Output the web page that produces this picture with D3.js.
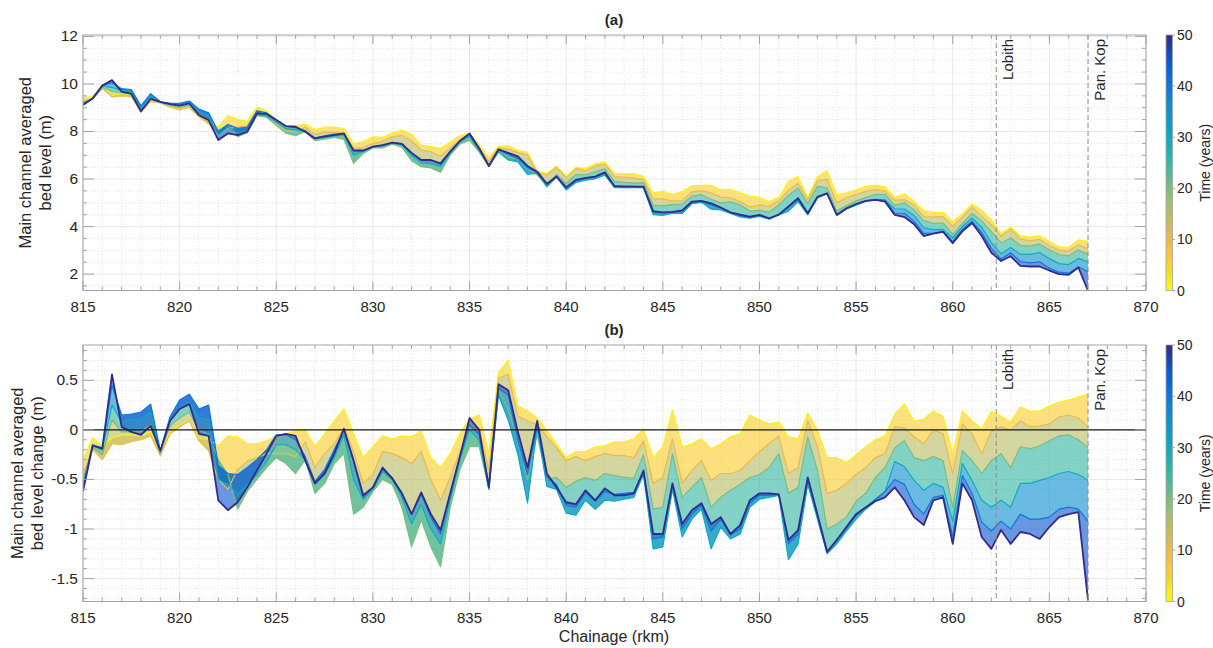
<!DOCTYPE html>
<html lang="en">
<head>
<meta charset="UTF-8">
<title>Bed level development</title>
<script src="https://d3js.org/d3.v7.min.js"></script>
<style>
  body { margin: 0; background: #fff; }
  text { font-family: "Liberation Sans", Arial, sans-serif; fill: #262626; }
</style>
</head>
<body>
<script>
// chainage (rkm) of the computational points
const chainage = [
  815.0, 815.5, 816.0, 816.5, 817.0, 817.5, 818.0, 818.5, 819.0, 819.5,
  820.0, 820.5, 821.0, 821.5, 822.0, 822.5, 823.0, 823.5, 824.0, 824.5,
  825.0, 825.5, 826.0, 826.5, 827.0, 827.5, 828.0, 828.5, 829.0, 829.5,
  830.0, 830.5, 831.0, 831.5, 832.0, 832.5, 833.0, 833.5, 834.0, 834.5,
  835.0, 835.5, 836.0, 836.5, 837.0, 837.5, 838.0, 838.5, 839.0, 839.5,
  840.0, 840.5, 841.0, 841.5, 842.0, 842.5, 843.0, 843.5, 844.0, 844.5,
  845.0, 845.5, 846.0, 846.5, 847.0, 847.5, 848.0, 848.5, 849.0, 849.5,
  850.0, 850.5, 851.0, 851.5, 852.0, 852.5, 853.0, 853.5, 854.0, 854.5,
  855.0, 855.5, 856.0, 856.5, 857.0, 857.5, 858.0, 858.5, 859.0, 859.5,
  860.0, 860.5, 861.0, 861.5, 862.0, 862.5, 863.0, 863.5, 864.0, 864.5,
  865.0, 865.5, 866.0, 866.5, 867.0
];

// initial main channel averaged bed level (m)
const bedInitial = [
  9.73, 9.55, 10.12, 9.60, 9.65, 9.60, 8.90, 9.33, 9.46, 9.06,
  8.88, 8.92, 8.73, 8.54, 8.35, 8.73, 8.58, 8.57, 9.17, 8.98,
  8.54, 8.27, 8.26, 8.30, 8.25, 8.22, 8.09, 7.91, 7.51, 7.86,
  7.94, 7.81, 8.02, 8.12, 7.95, 7.43, 7.65, 7.67, 7.79, 7.87,
  7.80, 7.30, 7.13, 6.79, 6.70, 6.97, 6.93, 6.22, 6.24, 6.68,
  6.38, 6.71, 6.66, 6.81, 6.87, 6.36, 6.34, 6.32, 6.09, 5.70,
  5.65, 5.16, 5.63, 5.86, 5.82, 5.93, 5.68, 5.65, 5.46, 5.13,
  5.13, 4.99, 5.15, 5.96, 6.20, 5.04, 6.10, 6.63, 5.61, 5.75,
  5.80, 5.86, 5.84, 5.73, 5.07, 5.11, 4.98, 4.56, 4.41, 4.46,
  4.45, 4.34, 4.86, 4.68, 4.10, 3.56, 3.90, 3.38, 3.37, 3.42,
  3.13, 2.88, 2.82, 3.11, 3.02
];

// bed level change (m) after a number of years
const years = [1, 10, 20, 30, 40, 50];
const change1 = [
  -0.30, -0.08, -0.16, -0.08, -0.05, -0.05, -0.06, -0.02, -0.20, -0.02,
  0.05, 0.10, -0.08, -0.10, -0.16, -0.06, -0.07, -0.14, -0.14, -0.11,
  -0.06, -0.04, -0.01, 0.00, -0.17, -0.04, 0.09, 0.21, -0.04, -0.28,
  -0.17, -0.06, -0.09, -0.06, -0.07, -0.01, -0.28, -0.38, -0.24, -0.04,
  0.11, 0.15, -0.24, 0.58, 0.70, 0.24, 0.19, 0.12, -0.01, -0.14,
  -0.28, -0.22, -0.22, -0.17, -0.16, -0.12, -0.12, -0.09, 0.01, -0.28,
  -0.17, 0.20, -0.17, -0.14, -0.09, -0.19, -0.14, -0.07, -0.04, 0.15,
  0.10, 0.06, 0.08, -0.07, -0.09, 0.17, 0.00, -0.28, -0.28, -0.33,
  -0.25, -0.17, -0.10, -0.06, 0.16, 0.26, 0.09, 0.11, 0.19, 0.14,
  -0.24, 0.19, 0.09, 0.01, 0.19, 0.14, 0.08, 0.23, 0.19, 0.19,
  0.24, 0.28, 0.30, 0.33, 0.36
];
const change10 = [
  -0.45, -0.20, -0.30, -0.14, -0.15, -0.12, -0.10, -0.06, -0.26, -0.04,
  0.03, 0.09, -0.11, -0.21, -0.50, -0.60, -0.40, -0.32, -0.28, -0.24,
  -0.24, -0.24, -0.27, -0.12, -0.38, -0.24, -0.14, 0.02, -0.22, -0.54,
  -0.45, -0.22, -0.24, -0.28, -0.34, -0.22, -0.50, -0.71, -0.48, -0.22,
  0.00, 0.00, -0.40, 0.52, 0.56, 0.14, 0.09, 0.05, -0.07, -0.18,
  -0.31, -0.27, -0.31, -0.27, -0.24, -0.26, -0.26, -0.28, -0.11, -0.54,
  -0.48, -0.09, -0.54, -0.41, -0.31, -0.51, -0.44, -0.44, -0.41, -0.31,
  -0.22, -0.14, -0.06, -0.44, -0.38, 0.09, -0.17, -0.64, -0.61, -0.54,
  -0.45, -0.38, -0.28, -0.24, 0.03, 0.02, -0.07, -0.14, 0.00, -0.04,
  -0.44, 0.06, -0.04, -0.24, -0.01, 0.03, 0.00, 0.09, 0.03, 0.04,
  0.06, 0.13, 0.15, 0.12, 0.03
];
const change20 = [
  -0.50, -0.18, -0.25, 0.10, -0.02, -0.02, -0.02, 0.05, -0.24, 0.04,
  0.12, 0.18, 0.00, -0.05, -0.30, -0.45, -0.80, -0.62, -0.50, -0.38,
  -0.28, -0.34, -0.44, -0.30, -0.64, -0.54, -0.34, -0.24, -0.85, -0.78,
  -0.62, -0.50, -0.55, -0.78, -1.18, -0.91, -1.18, -1.38, -0.78, -0.40,
  -0.17, -0.17, -0.60, 0.40, 0.20, -0.10, -0.50, -0.05, -0.50, -0.48,
  -0.58, -0.52, -0.48, -0.51, -0.44, -0.46, -0.48, -0.49, -0.25, -0.80,
  -0.78, -0.24, -0.68, -0.58, -0.48, -0.78, -0.68, -0.61, -0.55, -0.48,
  -0.45, -0.38, -0.24, -0.64, -0.58, -0.07, -0.41, -1.00, -0.95, -0.88,
  -0.72, -0.64, -0.48, -0.38, -0.18, -0.11, -0.28, -0.31, -0.27, -0.31,
  -0.78, -0.21, -0.31, -0.44, -0.31, -0.24, -0.38, -0.17, -0.19, -0.16,
  -0.11, -0.06, -0.05, -0.10, -0.18
];
const change30 = [
  -0.55, -0.15, -0.20, 0.25, 0.08, 0.10, 0.10, 0.18, -0.22, 0.10,
  0.22, 0.28, 0.12, 0.10, -0.50, -0.55, -0.65, -0.55, -0.45, -0.32,
  -0.15, -0.15, -0.20, -0.30, -0.55, -0.45, -0.28, -0.05, -0.50, -0.70,
  -0.60, -0.42, -0.50, -0.68, -0.95, -0.75, -1.00, -1.15, -0.70, -0.30,
  0.00, -0.10, -0.60, 0.35, 0.10, -0.25, -0.74, 0.03, -0.57, -0.60,
  -0.84, -0.86, -0.71, -0.80, -0.71, -0.72, -0.70, -0.68, -0.45, -1.20,
  -1.18, -0.60, -1.08, -0.90, -0.80, -1.20, -0.98, -1.10, -1.05, -0.78,
  -0.70, -0.68, -0.66, -1.31, -1.15, -0.55, -0.90, -1.25, -1.15, -1.02,
  -0.90, -0.80, -0.72, -0.62, -0.32, -0.37, -0.51, -0.61, -0.54, -0.58,
  -0.92, -0.34, -0.51, -0.71, -0.78, -0.71, -0.78, -0.54, -0.54, -0.51,
  -0.48, -0.44, -0.42, -0.45, -0.51
];
const change40 = [
  -0.58, -0.15, -0.18, 0.45, 0.15, 0.16, 0.18, 0.26, -0.21, 0.13,
  0.30, 0.36, 0.21, 0.25, -0.36, -0.44, -0.45, -0.38, -0.30, -0.20,
  -0.05, -0.05, -0.10, -0.27, -0.52, -0.40, -0.20, 0.00, -0.32, -0.68,
  -0.58, -0.40, -0.48, -0.64, -0.85, -0.65, -0.88, -1.05, -0.65, -0.27,
  0.05, -0.05, -0.55, 0.42, 0.35, -0.10, -0.45, 0.05, -0.48, -0.55,
  -0.76, -0.78, -0.63, -0.72, -0.62, -0.65, -0.64, -0.63, -0.43, -1.10,
  -1.08, -0.55, -1.00, -0.85, -0.76, -1.02, -0.90, -1.06, -1.00, -0.74,
  -0.66, -0.66, -0.65, -1.15, -1.05, -0.50, -0.87, -1.23, -1.12, -0.99,
  -0.86, -0.78, -0.70, -0.62, -0.50, -0.55, -0.75, -0.85, -0.68, -0.66,
  -1.08, -0.46, -0.64, -0.93, -1.02, -0.92, -1.00, -0.85, -0.90, -0.90,
  -0.88, -0.80, -0.78, -0.80, -0.92
];
const change50 = [
  -0.62, -0.16, -0.19, 0.56, 0.03, -0.02, -0.05, 0.04, -0.21, 0.09,
  0.21, 0.26, -0.04, -0.06, -0.71, -0.81, -0.73, -0.58, -0.41, -0.24,
  -0.06, -0.04, -0.06, -0.31, -0.54, -0.44, -0.24, 0.01, -0.31, -0.66,
  -0.58, -0.38, -0.49, -0.64, -0.85, -0.63, -0.85, -1.01, -0.64, -0.27,
  0.12, 0.00, -0.58, 0.46, 0.40, -0.02, -0.38, 0.09, -0.44, -0.58,
  -0.73, -0.75, -0.61, -0.71, -0.59, -0.66, -0.66, -0.64, -0.41, -1.05,
  -1.05, -0.54, -0.95, -0.81, -0.74, -0.95, -0.88, -1.05, -0.96, -0.71,
  -0.64, -0.64, -0.65, -1.11, -1.01, -0.48, -0.85, -1.23, -1.11, -0.98,
  -0.85, -0.78, -0.72, -0.68, -0.58, -0.71, -0.88, -0.96, -0.71, -0.68,
  -1.15, -0.54, -0.71, -1.08, -1.20, -1.01, -1.15, -1.03, -1.05, -1.10,
  -0.98, -0.88, -0.85, -0.83, -1.72
];

const xTicks = [815, 820, 825, 830, 835, 840, 845, 850, 855, 860, 865, 870];
const bedTicks = [2, 4, 6, 8, 10, 12];
const changeTicks = [-1.5, -1, -0.5, 0, 0.5];
const timeTicks = [0, 10, 20, 30, 40, 50];
const stationNames = ['Lobith', 'Pan. Kop'];
const stationKm = [862.25, 867.0];

// parula colormap, flipped so year 0 is yellow
const parulaHex = ['#352a87', '#0363e1', '#1485d4', '#06a7c6', '#38b99e', '#92bf73', '#b7bd64',
  '#d9ba56', '#e9b94e', '#f8ba44', '#ffc337', '#fccd2e', '#f7d826', '#f5eb18', '#f9fb0e'];
const parulaPos = [0, 8, 16, 24, 32, 40, 44, 48, 50, 52, 54, 56, 58, 60, 63].map(i => i / 63);
const parula = d3.scaleLinear().domain(parulaPos).range(parulaHex).interpolate(d3.interpolateRgb);
const yearColor = yr => parula(1 - yr / 50);

const changeSeries = [change1, change10, change20, change30, change40, change50];
const bedSeries = changeSeries.map(c => c.map((v, i) => bedInitial[i] + v));

const W = 1213, H = 648;
const svg = d3.select('body').append('svg').attr('width', W).attr('height', H);
const x = d3.scaleLinear([815, 870], [83, 1146]);
const axisCol = '#a3a3a3';

const defs = svg.append('defs');
const grad = defs.append('linearGradient').attr('id', 'cbar')
  .attr('x1', 0).attr('y1', 1).attr('x2', 0).attr('y2', 0);
d3.range(0, 51, 2).forEach(t => {
  grad.append('stop').attr('offset', t / 50).attr('stop-color', yearColor(t));
});

function drawPanel(p) {
  const y = d3.scaleLinear(p.domain, [p.bottom, p.top]);
  const g = svg.append('g');
  const clipId = 'clip' + p.id;
  defs.append('clipPath').attr('id', clipId).append('rect')
    .attr('x', 83).attr('y', p.top).attr('width', 1146 - 83).attr('height', p.bottom - p.top);

  // minor grid
  const xMinor = d3.range(815, 871, 1).filter(v => v % 5 !== 0);
  const yMinor = d3.range(Math.ceil(p.domain[0] / p.minor) * p.minor, p.domain[1], p.minor)
    .filter(v => !p.ticks.some(t => Math.abs(t - v) < 1e-6));
  g.append('g').selectAll('line').data(xMinor).join('line')
    .attr('x1', d => x(d)).attr('x2', d => x(d)).attr('y1', p.top).attr('y2', p.bottom)
    .attr('stroke', '#e4e4e4').attr('stroke-dasharray', '1,2');
  g.append('g').selectAll('line').data(yMinor).join('line')
    .attr('x1', 83).attr('x2', 1146).attr('y1', d => y(d)).attr('y2', d => y(d))
    .attr('stroke', '#e4e4e4').attr('stroke-dasharray', '1,2');
  // major grid
  g.append('g').selectAll('line').data(xTicks).join('line')
    .attr('x1', d => x(d)).attr('x2', d => x(d)).attr('y1', p.top).attr('y2', p.bottom)
    .attr('stroke', '#e8e8e8');
  g.append('g').selectAll('line').data(p.ticks).join('line')
    .attr('x1', 83).attr('x2', 1146).attr('y1', d => y(d)).attr('y2', d => y(d))
    .attr('stroke', '#e8e8e8');

  const plot = g.append('g').attr('clip-path', `url(#${clipId})`);
  // bands between consecutive years to give the dense bundle look
  const area = d3.area().x((d, i) => x(chainage[i])).y0(d => y(d[0])).y1(d => y(d[1]));
  for (let k = 0; k < years.length - 1; k++) {
    const pair = p.series[k].map((v, i) => [v, p.series[k + 1][i]]);
    plot.append('path').datum(pair).attr('d', area)
      .attr('fill', yearColor((years[k] + years[k + 1]) / 2)).attr('fill-opacity', 0.62);
  }
  const line = d3.line().x((d, i) => x(chainage[i])).y(d => y(d));
  plot.selectAll('path.yr').data(p.series).join('path').attr('class', 'yr')
    .attr('d', line).attr('fill', 'none')
    .attr('stroke', (d, i) => yearColor(years[i]))
    .attr('stroke-width', (d, i) => i === years.length - 1 ? 1.8 : 1.2)
    .attr('stroke-linejoin', 'round');

  if (p.zero) {
    g.append('line').attr('x1', 83).attr('x2', 1146).attr('y1', y(0)).attr('y2', y(0))
      .attr('stroke', '#1a1a1a').attr('stroke-width', 1.1);
  }

  // stations
  stationKm.forEach((km, i) => {
    g.append('line').attr('x1', x(km)).attr('x2', x(km)).attr('y1', p.top).attr('y2', p.bottom)
      .attr('stroke', '#8c8c8c').attr('stroke-dasharray', '5,3');
    g.append('text').attr('transform', `translate(${x(km) + 17},${p.top + 4}) rotate(-90)`)
      .attr('text-anchor', 'end').style('font-size', '15px').text(stationNames[i]);
  });

  // box and ticks
  g.append('rect').attr('x', 83).attr('y', p.top).attr('width', 1146 - 83)
    .attr('height', p.bottom - p.top).attr('fill', 'none').attr('stroke', axisCol);
  const tk = g.append('g').attr('stroke', axisCol);
  xTicks.forEach(v => {
    tk.append('line').attr('x1', x(v)).attr('x2', x(v)).attr('y1', p.bottom).attr('y2', p.bottom - 9);
    tk.append('line').attr('x1', x(v)).attr('x2', x(v)).attr('y1', p.top).attr('y2', p.top + 9);
  });
  xMinor.forEach(v => {
    tk.append('line').attr('x1', x(v)).attr('x2', x(v)).attr('y1', p.bottom).attr('y2', p.bottom - 4);
    tk.append('line').attr('x1', x(v)).attr('x2', x(v)).attr('y1', p.top).attr('y2', p.top + 4);
  });
  p.ticks.forEach(v => {
    tk.append('line').attr('x1', 83).attr('x2', 94).attr('y1', y(v)).attr('y2', y(v));
    tk.append('line').attr('x1', 1146).attr('x2', 1135).attr('y1', y(v)).attr('y2', y(v));
  });
  yMinor.forEach(v => {
    tk.append('line').attr('x1', 83).attr('x2', 87).attr('y1', y(v)).attr('y2', y(v));
    tk.append('line').attr('x1', 1146).attr('x2', 1142).attr('y1', y(v)).attr('y2', y(v));
  });

  // tick labels
  g.append('g').selectAll('text').data(xTicks).join('text')
    .attr('x', d => x(d)).attr('y', p.bottom + 21).attr('text-anchor', 'middle')
    .style('font-size', '15px').text(d => d);
  g.append('g').selectAll('text').data(p.ticks).join('text')
    .attr('x', 78).attr('y', d => y(d) + 5).attr('text-anchor', 'end')
    .style('font-size', '15.5px').text(d => String(d));

  // title and y label
  g.append('text').attr('x', 614).attr('y', p.top - 10).attr('text-anchor', 'middle')
    .style('font-size', '15px').style('font-weight', 'bold').text(p.title);
  const cy = (p.top + p.bottom) / 2;
  p.ylabel.forEach((s, i) => {
    g.append('text').attr('transform', `translate(${p.labelX + i * 20},${cy}) rotate(-90)`)
      .attr('text-anchor', 'middle').style('font-size', '16.5px').text(s);
  });

  // colorbar
  const cb = d3.scaleLinear([0, 50], [p.bottom, p.top]);
  g.append('rect').attr('x', 1166).attr('y', p.top).attr('width', 6.5).attr('height', p.bottom - p.top)
    .attr('fill', 'url(#cbar)').attr('stroke', axisCol).attr('stroke-width', 0.8);
  g.append('g').selectAll('line').data(timeTicks).join('line')
    .attr('x1', 1172.5).attr('x2', 1175).attr('y1', d => cb(d)).attr('y2', d => cb(d))
    .attr('stroke', axisCol);
  g.append('g').selectAll('text').data(timeTicks).join('text')
    .attr('x', 1177).attr('y', d => cb(d) + 5).style('font-size', '14px').text(d => d);
  g.append('text').attr('transform', `translate(1210,${cy}) rotate(-90)`)
    .attr('text-anchor', 'middle').style('font-size', '14px').text('Time (years)');
}

drawPanel({ id: 'a', top: 35, bottom: 290.5, domain: [1.31, 12.06], ticks: bedTicks, minor: 0.5,
  series: bedSeries, title: '(a)', ylabel: ['Main channel averaged', 'bed level (m)'], zero: false, labelX: 31 });
drawPanel({ id: 'b', top: 345, bottom: 601.5, domain: [-1.731, 0.856], ticks: changeTicks, minor: 0.1,
  series: changeSeries, title: '(b)', ylabel: ['Main channel averaged', 'bed level change (m)'], zero: true, labelX: 23 });

svg.append('text').attr('x', 614).attr('y', 642).attr('text-anchor', 'middle')
  .style('font-size', '16px').text('Chainage (rkm)');
</script>
</body>
</html>
